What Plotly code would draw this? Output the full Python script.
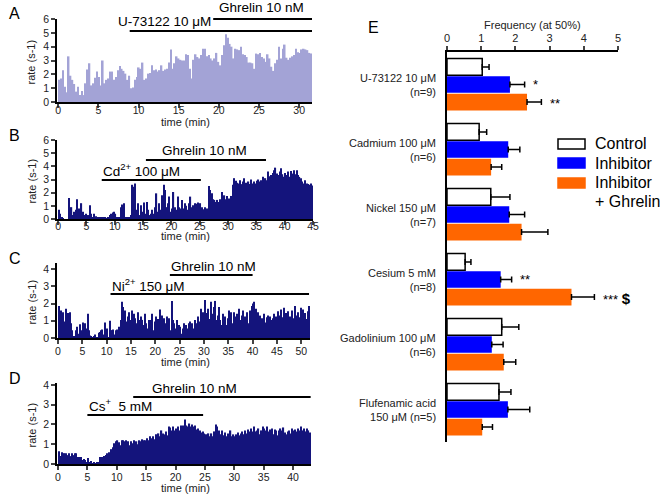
import numpy as np
import plotly.graph_objects as go

W, H = 661, 496

# ---- panel A: U-73122 (rate per bin) ----
A_step = 0.236
A_rate = [1.6, 1.7, 2.3, 1.1, 0.7, 3.3, 1.9, 1.6, 1.3, 0.75,
          1.1, 0.5, 0.8, 0.5, 1.35, 2.35, 2.8, 1.2, 1.35, 1.75,
          2.2, 1.8, 1.2, 3.0, 1.35, 1.6, 1.7, 2.2, 2.2, 1.6,
          1.8, 2.3, 2.6, 2.4, 2.25, 2.05, 1.6, 1.9, 1.0, 1.05,
          1.6, 1.8, 2.5, 2.4, 2.85, 1.6, 1.7, 2.05, 2.1, 2.65,
          2.3, 2.35, 2.2, 2.3, 2.65, 2.25, 2.35, 2.4, 2.85, 3.8,
          2.4, 2.8, 3.3, 3.15, 3.05, 3.0, 3.0, 3.45, 3.4, 2.4,
          1.7, 3.05, 3.45, 3.25, 3.15, 3.4, 3.85, 3.85, 3.3, 3.4,
          3.15, 3.0, 3.15, 3.55, 2.9, 2.65, 3.4, 4.1, 4.9, 4.65,
          4.2, 4.0, 3.15, 3.85, 3.8, 3.75, 4.0, 3.45, 3.4, 3.25,
          2.85, 2.85, 2.8, 2.4, 3.5, 3.45, 3.55, 3.25, 3.15, 2.9,
          3.45, 3.15, 2.55, 2.25, 2.8, 3.05, 4.0, 3.15, 3.85, 4.15,
          3.2, 3.05, 3.2, 3.3, 3.4, 3.85, 3.6, 3.55, 3.8, 3.85,
          3.8, 3.75, 3.55, 3.5]

# ---- panel B: Cd2+ ----
B_step = 0.25
B_rate = [0.7, 0.4, 0.1, 0.05, 0, 0, 0, 1.6,
          0.4, 0.9, 0.3, 0.55, 0.7, 1.5, 0.8, 0.7,
          1.2, 0.55, 0.3, 0.4, 0.2, 0.3, 1.05, 0.4,
          0.15, 0.4, 0.2, 0.15, 0.15, 0.1, 0.1, 0.1,
          0.1, 0.1, 0.05, 0.1, 0.3, 0.4, 0.5, 0.55,
          0.4, 0.15, 0.1, 0.1, 0.9, 1.1, 1.2, 0.15,
          0.15, 0.1, 0.15, 0.3, 2.6, 2.45, 2.7, 0.7,
          1.2, 0.3, 1.05, 0.55, 1.25, 0.4, 1.3, 0.7,
          0.3, 0.4, 0.7, 0.4, 0.9, 1.95, 0.55, 1.2,
          0.7, 1.8, 2.6, 2.2, 0.9, 1.2, 1.7, 0.55,
          0.8, 2.05, 0.9, 0.7, 1.7, 0.9, 0.8, 1.45,
          0.8, 1.2, 1.0, 0.7, 1.2, 1.7, 0.9, 1.05,
          1.2, 1.15, 1.25, 1.05, 1.2, 0.9, 0.75, 0.9,
          0.7, 0.8, 2.5, 2.2, 1.95, 1.5, 1.45, 1.3,
          1.45, 1.3, 1.5, 2.05, 1.5, 1.8, 1.5, 1.75,
          1.55, 1.45, 1.75, 2.6, 3.1, 2.9, 2.75, 2.7,
          2.95, 2.65, 2.85, 3.1, 2.75, 2.7, 2.85, 2.65,
          3.0, 2.7, 2.85, 2.7, 2.9, 3.0, 2.85, 2.95,
          3.2, 2.9, 3.1, 2.95, 3.6, 3.25, 3.35, 3.5,
          3.7, 3.9, 3.45, 3.35, 3.6, 3.85, 3.4, 3.2,
          3.5, 3.35, 3.6, 3.2, 3.65, 3.45, 3.7, 3.4,
          3.7, 3.35, 3.2, 3.1, 2.85, 2.7, 2.95, 2.7,
          2.65, 2.6, 2.7, 2.55]

# ---- panel C: Ni2+ ----
C_step = 0.25
C_rate = [1.85, 0.7, 1.6, 1.05, 1.5, 0.95, 1.7, 1.15,
          1.45, 1.5, 0.85, 0.45, 0, 0.1, 0.45, 0.65,
          0.05, 0.25, 0.8, 0.45, 0.9, 0.7, 0.85, 0.55,
          1.4, 0.45, 0.15, 0.1, 0.05, 0.1, 0.2, 0.05,
          0.05, 0.3, 0.35, 0.45, 0.5, 0.2, 0.9, 0.25,
          0.55, 0.05, 1.0, 0.45, 0.45, 0.5, 0.2, 0.45,
          0.5, 0.15, 0.65, 1.05, 2.1, 1.8, 1.15, 1.6,
          0.95, 1.25, 1.5, 1.05, 1.6, 0.95, 1.4, 1.15,
          0.85, 1.5, 1.05, 0.65, 1.25, 1.05, 0.75, 1.4,
          0.85, 0.55, 1.05, 0.65, 1.05, 1.4, 0.45, 0.95,
          1.25, 0.75, 1.1, 1.65, 0.65, 1.3, 0.85, 1.15,
          0.85, 1.25, 0.65, 1.15, 0.45, 2.15, 1.05, 0.85,
          0.55, 1.05, 0.45, 0.75, 0.65, 0.25, 0.55, 0.85,
          0.45, 0.75, 0.55, 0.85, 0.95, 0.65, 0.85, 0.55,
          1.05, 0.65, 0.85, 1.25, 0.95, 1.7, 1.25, 1.5,
          2.2, 1.45, 0.85, 1.7, 1.1, 2.1, 0.95, 1.4,
          1.8, 2.15, 1.05, 1.3, 1.8, 1.05, 0.75, 1.4,
          0.95, 1.25, 0.75, 1.15, 1.6, 1.05, 1.5, 0.85,
          1.5, 1.25, 0.95, 1.4, 1.7, 1.05, 0.85, 1.3,
          1.6, 1.25, 1.05, 1.5, 0.85, 1.6, 1.15, 1.85,
          2.0, 2.1, 1.7, 1.25, 1.5, 1.05, 1.3, 1.15,
          1.05, 1.4, 0.9, 1.2, 1.3, 0.95, 1.25, 1.05,
          1.15, 1.4, 0.95, 1.25, 1.55, 1.0, 1.3, 1.65,
          1.2, 1.75, 1.0, 1.45, 1.05, 1.55, 1.25, 0.95,
          1.6, 1.15, 1.85, 1.3, 1.05, 1.5, 1.2, 1.75,
          1.35, 1.65, 0.95, 1.45, 1.1, 1.55, 1.85, 1.3]

# ---- panel D: Cs+ ----
D_step = 0.25
D_rate = [0.65, 0.4, 0.6, 0.45, 0.55, 0.55, 0.45, 0.55,
          0.4, 0.55, 0.45, 0.55, 0.55, 0.35, 0.35, 0.35,
          0.2, 0.25, 0.2, 0.1, 0.3, 0.1, 0.15, 0.05,
          0.1, 0.05, 0.1, 0.1, 0.35, 0.35, 0.35, 0.4,
          0.45, 0.55, 0.6, 0.45, 0.75, 0.85, 1.05, 1.15,
          1.2, 1.1, 0.95, 1.2, 1.2, 1.15, 1.2, 1.15,
          0.95, 1.15, 1.05, 1.2, 0.9, 1.15, 1.0, 1.2,
          1.15, 1.25, 1.2, 1.2, 1.3, 1.2, 1.4, 1.3,
          1.4, 1.25, 1.5, 1.45, 1.55, 1.4, 1.7, 1.55,
          1.5, 1.65, 1.45, 1.9, 1.85, 1.7, 1.9, 1.7,
          1.8, 1.9, 1.7, 1.95, 1.85, 1.95, 2.25, 1.95,
          1.9, 2.05, 1.9, 2.0, 1.9, 1.95, 1.75, 1.8,
          1.7, 1.6, 1.65, 1.55, 1.5, 1.45, 1.55, 1.4,
          1.55, 1.4, 1.65, 2.0, 1.9, 1.7, 1.5, 1.7,
          1.45, 1.6, 1.4, 1.55, 1.45, 1.7, 1.4, 1.5,
          1.4, 1.5, 1.6, 1.45, 1.55, 1.65, 1.5, 1.7,
          1.55, 1.75, 1.65, 1.8, 1.65, 1.9, 1.65, 1.7,
          1.8, 1.5, 1.7, 1.9, 1.8, 1.7, 1.9, 1.65,
          1.75, 1.8, 1.5, 1.75, 1.7, 1.45, 1.7, 1.8,
          1.7, 1.85, 1.6, 1.5, 1.65, 1.7, 1.55, 1.8,
          1.7, 1.75, 1.65, 1.8, 1.7, 1.9, 1.7, 1.8,
          1.65, 1.8, 1.7, 1.6]

# treatments: (label, start, end) in minutes
A_treat = [("U-73122 10 μM", 8.9, 31.6), ("Ghrelin 10 nM", 19.3, 31.6)]
B_treat = [("Cd<sup>2+</sup> 100 μM", 7.7, 25.2), ("Ghrelin 10 nM", 15.5, 36.7)]
C_treat = [("Ni<sup>2+</sup> 150 μM", 10.8, 51.6), ("Ghrelin 10 nM", 23.0, 40.0)]
D_treat = [("Cs<sup>+</sup>  5 mM", 5.0, 24.7), ("Ghrelin 10 nM", 12.8, 43.0)]

# ---- panel E: frequency at 50% ----
E_groups = ["U-73122 10 μM<br>(n=9)", "Cadmium 100 μM<br>(n=6)",
            "Nickel 150 μM<br>(n=7)", "Cesium 5 mM<br>(n=8)",
            "Gadolinium 100 μM<br>(n=6)", "Flufenamic acid<br>150 μM (n=5)"]
E_control = [1.03, 0.94, 1.28, 0.53, 1.6, 1.52]
E_control_err = [0.2, 0.22, 0.56, 0.17, 0.5, 0.35]
E_inhib = [1.84, 1.79, 1.82, 1.57, 1.31, 1.78]
E_inhib_err = [0.43, 0.34, 0.45, 0.32, 0.33, 0.64]
E_ghrelin = [2.34, 1.29, 2.18, 3.64, 1.66, 1.03]
E_ghrelin_err = [0.42, 0.31, 0.77, 0.67, 0.35, 0.3]
E_signif_inhib = ["*", "", "", "**", "", ""]
E_signif_ghrelin = ["**", "", "", "*** <span style='font-size:15px'><b>$</b></span>", "", ""]


def fx(px):
    return px / W


def fy(py):
    return 1 - py / H


def note(text, px, py, size=11, xanchor="center", yanchor="middle", **kw):
    # text placed at a pixel position of the 661x496 canvas
    return dict(text=text, x=fx(px), y=fy(py), xref="paper", yref="paper",
                showarrow=False, xanchor=xanchor, yanchor=yanchor,
                font=dict(size=size, color=kw.pop("color", "black")), **kw)


FONT = "Arial, Liberation Sans, sans-serif"
GREY = "#222"
fig = go.Figure()

# panel geometry in pixels: x0, x1, top, bottom; ranges; bar colour; treatment line y;
# x-title y; tick label standoff
panels = [
    ("A", A_rate, A_step, A_treat, 57, 312, 19, 102, [-0.15, 31.6], [0, 6],
     "#a3a3d6", (31, 19), 122, -6),
    ("B", B_rate, B_step, B_treat, 57, 313, 140, 219, [-0.2, 45.0], [0, 6],
     "#14147c", (180, 160), 236, -7),
    ("C", C_rate, C_step, C_treat, 57, 310, 263, 338, [-0.2, 51.8], [0, 4.35],
     "#14147c", (294, 275), 362, -1),
    ("D", D_rate, D_step, D_treat, 57, 311, 383, 464, [-0.17, 43.06], [0, 4.1],
     "#14147c", (415, 397), 488, -1),
]

annotations = []
shapes = []
for i, (lab, rate, step, treat, x0, x1, yt, yb, xr, yr, col,
        line_y, xt_y, stand) in enumerate(panels):
    n = i + 1
    xa = "x" if n == 1 else f"x{n}"
    ya = "y" if n == 1 else f"y{n}"
    t = np.arange(len(rate)) * step + step / 2
    fig.add_trace(go.Bar(x=t, y=rate, width=step * 0.85, marker_color=col,
                         marker_line_width=0, xaxis=xa, yaxis=ya, showlegend=False))
    ax = dict(domain=[fx(x0), fx(x1)], range=xr, anchor=ya, dtick=5, tick0=0,
              ticks="outside", ticklen=4, tickwidth=1.5, showline=True,
              linecolor="black", linewidth=1.5, showgrid=False, zeroline=False,
              automargin=False, ticklabelstandoff=stand,
              tickfont=dict(size=10.5, color=GREY))
    ay = dict(domain=[fy(yb), fy(yt)], range=yr, anchor=xa, dtick=1, tick0=0,
              ticks="outside", ticklen=4, tickwidth=1.5, showline=True,
              linecolor="black", linewidth=1.5, showgrid=False, zeroline=False,
              automargin=False, tickfont=dict(size=10.5, color=GREY))
    fig.update_layout({("xaxis" if n == 1 else f"xaxis{n}"): ax,
                       ("yaxis" if n == 1 else f"yaxis{n}"): ay})
    # treatment lines
    for (name, s, e), ly in zip(treat, line_y):
        shapes.append(dict(type="line", xref=xa, yref="paper", x0=s, x1=e,
                           y0=fy(ly), y1=fy(ly), line=dict(color="black", width=2)))
    annotations.append(note(lab, 7, yt - 5, size=16, xanchor="left"))
    annotations.append(note("rate (s-1)", 31, (yt + yb) / 2 + 2, textangle=-90, color=GREY))
    annotations.append(note("time (min)", 185, xt_y, color=GREY))

# treatment labels (pixel placement)
tlabels = [
    ("U-73122 10 μM", 213, 22, "right"), ("Ghrelin 10 nM", 261, 8, "center"),
    ("Cd<sup>2+</sup> 100 μM", 101, 170, "left"), ("Ghrelin 10 nM", 204, 150, "center"),
    ("Ni<sup>2+</sup> 150 μM", 110, 285, "left"), ("Ghrelin 10 nM", 213, 266, "center"),
    ("Cs<sup>+</sup>  5 mM", 87, 405, "left"), ("Ghrelin 10 nM", 194, 388, "center"),
]
for txt, px, py, anc in tlabels:
    annotations.append(note(txt, px, py, size=13.5, xanchor=anc))

# ---- panel E bars ----
for vals, err, name, fill, lc in [
    (E_control, E_control_err, "Control", "white", "black"),
    (E_inhib, E_inhib_err, "Inhibitor", "#0000ff", "#0000ff"),
    (E_ghrelin, E_ghrelin_err, "Inhibitor + Ghrelin", "#ff6600", "#ff6600"),
]:
    fig.add_trace(go.Bar(
        x=vals, y=E_groups, orientation="h", name=name, showlegend=False,
        marker=dict(color=fill, line=dict(color=lc, width=1.5 if fill == "white" else 0)),
        error_x=dict(type="data", symmetric=False, array=err, arrayminus=[0] * len(err),
                     color="black", thickness=1.5, width=3),
        xaxis="x5", yaxis="y5"))

fig.update_layout(
    xaxis5=dict(domain=[fx(447), fx(618)], range=[0, 5], side="top", anchor="y5",
                dtick=1, ticks="outside", ticklen=4, tickwidth=1.5, showline=True,
                linecolor="black", linewidth=1.5, showgrid=False, zeroline=False,
                automargin=False, tickfont=dict(size=11, color=GREY)),
    yaxis5=dict(domain=[fy(442), fy(52)], anchor="x5", autorange="reversed",
                showticklabels=False, ticks="", showline=True, linecolor="black",
                linewidth=1.5, showgrid=False, zeroline=False, automargin=False),
)

for g in E_groups:
    annotations.append(dict(text=g, x=fx(438), y=g, xref="paper", yref="y5",
                            showarrow=False, xanchor="right", yanchor="middle",
                            align="right", font=dict(size=11, color=GREY)))

# significance marks, placed just past the error bar
for k, g in enumerate(E_groups):
    for marks, v, e, off in [(E_signif_inhib, E_inhib, E_inhib_err, 0.0),
                             (E_signif_ghrelin, E_ghrelin, E_ghrelin_err, 0.29)]:
        if marks[k]:
            annotations.append(dict(text=marks[k], x=v[k] + e[k] + 0.2, y=k + off,
                                    xref="x5", yref="y5", showarrow=False,
                                    xanchor="left", yanchor="middle",
                                    font=dict(size=13, color="black")))

annotations.append(note("E", 366, 28, size=16, xanchor="left"))
annotations.append(note("Frequency (at 50%)", 532, 25, color=GREY))

# legend drawn by hand
leg = [("Control", "white", "black", 144), ("Inhibitor", "#0000ff", "#0000ff", 163),
       ("Inhibitor", "#ff6600", "#ff6600", 183)]
for txt, fill, lc, cy in leg:
    shapes.append(dict(type="rect", xref="paper", yref="paper", x0=fx(558), x1=fx(585),
                       y0=fy(cy + 5), y1=fy(cy - 5), fillcolor=fill,
                       line=dict(color=lc, width=1.5)))
    annotations.append(note(txt, 593, cy, size=16, xanchor="left"))
annotations.append(note("+ Ghrelin", 593, 201, size=16, xanchor="left"))

fig.update_layout(
    width=W, height=H, margin=dict(l=0, r=0, t=0, b=0, autoexpand=False),
    paper_bgcolor="white", plot_bgcolor="white",
    font=dict(family=FONT, color="black"),
    barmode="group", bargap=0.19, bargroupgap=0.05,
    annotations=annotations, shapes=shapes, showlegend=False,
)

# the page body has a default 8px margin; drop it so the figure sits at the corner
fig.write_html("out.html", config={"displayModeBar": False},
               post_script="document.body.style.margin = '0px';")
